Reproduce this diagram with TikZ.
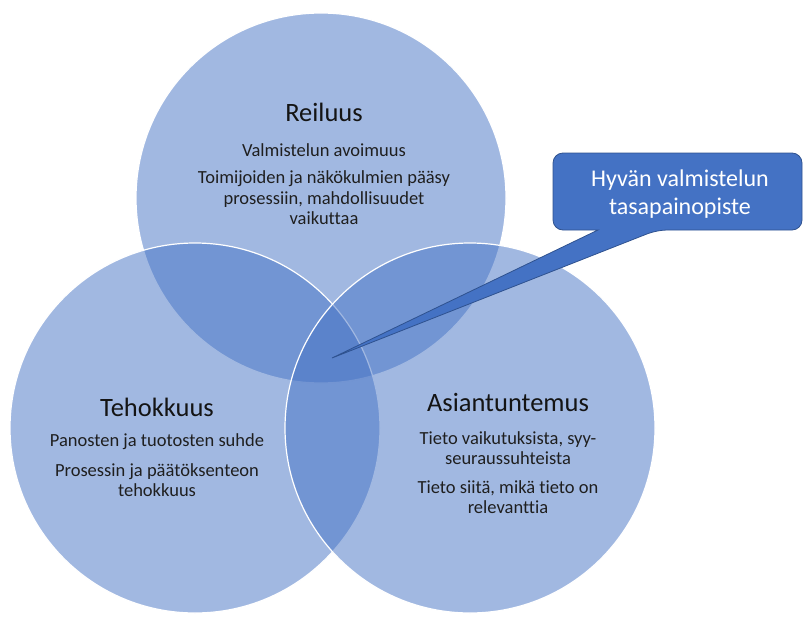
\documentclass[tikz,border=0pt]{standalone}
\usepackage{fontspec}
\setmainfont[Ligatures=NoCommon]{Carlito}
\definecolor{accent}{HTML}{4472C4}
\definecolor{accentdark}{HTML}{2F528F}
\begin{document}
\begin{tikzpicture}[x=1pt,y=-1pt,
  venn/.style={circle,minimum size=370pt,inner sep=0pt,fill=accent,fill opacity=0.5,draw=white,draw opacity=1,line width=1.2pt},
  ttl/.style={font=\fontsize{26.5}{30}\selectfont,text=black!92,inner sep=0pt},
  body/.style={font=\fontsize{18.5}{20.5}\selectfont,text=black!88,align=center,inner sep=0pt},
  calltext/.style={font=\fontsize{24}{28}\selectfont,text=white,align=center,inner sep=0pt}]
\useasboundingbox (0,0) rectangle (803,618);
\node[venn] (top) at (321,198) {};
\node[venn] (left) at (195,428) {};
\node[venn] (right) at (470,428) {};
% callout
\draw[fill=accent,draw=accentdark,line width=0.8pt,rounded corners=10pt]
  (598,230) -- (553,230) -- (553,153) -- (802,153) -- (802,230) -- (657,230)
  [sharp corners] -- (332,358) -- cycle;
\node[calltext] (call) at (680,194) {Hyvän valmistelun\\tasapainopiste};
% texts
\node[ttl] (t1) at (324,112) {Reiluus};
\node[body] (b1a) at (324,150) {Valmistelun avoimuus};
\node[body] (b1b) at (324,198) {Toimijoiden ja näkökulmien pääsy\\prosessiin, mahdollisuudet\\vaikuttaa};
\node[ttl] (t2) at (157,407) {Tehokkuus};
\node[body] (b2a) at (157,442) {Panosten ja tuotosten suhde};
\node[body] (b2b) at (157,480) {Prosessin ja päätöksenteon\\tehokkuus};
\node[ttl] (t3) at (508,402) {Asiantuntemus};
\node[body] (b3a) at (508,448) {Tieto vaikutuksista, syy-\\seuraussuhteista};
\node[body] (b3b) at (508,497) {Tieto siitä, mikä tieto on\\relevanttia};
\end{tikzpicture}
\end{document}
